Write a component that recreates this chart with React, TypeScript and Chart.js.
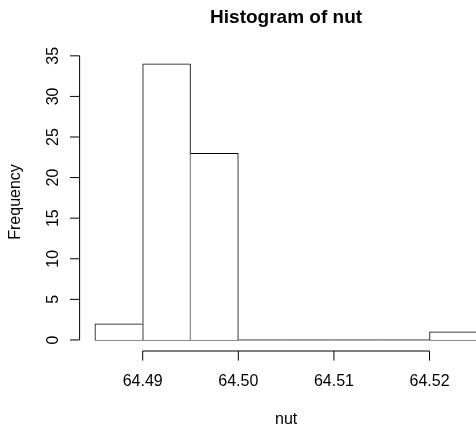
import React, { useEffect, useRef } from "react";
import { Chart, registerables } from "chart.js";

Chart.register(...registerables);

// Histogram data (bin edges and counts)
const binEdges = [64.485, 64.49, 64.495, 64.5, 64.505, 64.51, 64.515, 64.52, 64.525];
const counts = [2, 34, 23, 0, 0, 0, 0, 1];

// Axis ticks
const yTicks = [0, 5, 10, 15, 20, 25, 30, 35];
const yTickLabels = ["0", "5", "10", "15", "20", "25", "30", "35"];
const xTicks = [64.49, 64.5, 64.51, 64.52];
const xTickLabels = ["64.49", "64.50", "64.51", "64.52"];

const titleText = "Histogram of nut";
const xLabel = "nut";
const yLabel = "Frequency";

// Axis ranges (R-style 4% extension)
const xMin = 64.4834;
const xMax = 64.52486;
const yMin = -1.36;
const yMax = 35.36;

const FONT = '"Liberation Sans", Arial, Helvetica, sans-serif';

export default function App() {
  const ref = useRef<HTMLCanvasElement | null>(null);

  useEffect(() => {
    const canvas = ref.current;
    if (!canvas) return;

    const barData = counts.map((c, i) => ({ x: (binEdges[i] + binEdges[i + 1]) / 2, y: c }));
    const baseline = [
      { x: binEdges[0], y: 0 },
      { x: binEdges[binEdges.length - 1], y: 0 },
    ];

    const rAxes = {
      id: "rAxes",
      afterDraw(chart: any) {
        const ctx = chart.ctx as CanvasRenderingContext2D;
        const xs = chart.scales.x;
        const ys = chart.scales.y;
        const area = chart.chartArea;
        ctx.save();
        ctx.strokeStyle = "#000";
        ctx.fillStyle = "#000";
        ctx.lineWidth = 1;

        // Y axis
        const yAxisX = area.left;
        ctx.beginPath();
        ctx.moveTo(yAxisX, ys.getPixelForValue(yTicks[0]));
        ctx.lineTo(yAxisX, ys.getPixelForValue(yTicks[yTicks.length - 1]));
        yTicks.forEach((t) => {
          const py = ys.getPixelForValue(t);
          ctx.moveTo(yAxisX, py);
          ctx.lineTo(yAxisX - 9.6, py);
        });
        ctx.stroke();

        ctx.font = `16px ${FONT}`;
        ctx.textAlign = "center";
        ctx.textBaseline = "alphabetic";
        yTicks.forEach((t, i) => {
          const py = ys.getPixelForValue(t);
          ctx.save();
          ctx.translate(yAxisX - 22, py);
          ctx.rotate(-Math.PI / 2);
          ctx.fillText(yTickLabels[i], 0, 0);
          ctx.restore();
        });

        // X axis
        const xAxisY = area.bottom;
        ctx.beginPath();
        ctx.moveTo(xs.getPixelForValue(xTicks[0]), xAxisY);
        ctx.lineTo(xs.getPixelForValue(xTicks[xTicks.length - 1]), xAxisY);
        xTicks.forEach((t) => {
          const px = xs.getPixelForValue(t);
          ctx.moveTo(px, xAxisY);
          ctx.lineTo(px, xAxisY + 9.6);
        });
        ctx.stroke();

        xTicks.forEach((t, i) => {
          const px = xs.getPixelForValue(t);
          ctx.fillText(xTickLabels[i], px, xAxisY + 35);
        });

        // Labels and title
        const cx = xs.getPixelForValue((xMin + 64.5266) / 2);
        const cy = ys.getPixelForValue((yMin + yMax) / 2);
        ctx.fillText(xLabel, cx, 424);

        ctx.save();
        ctx.translate(19.5, cy);
        ctx.rotate(-Math.PI / 2);
        ctx.fillText(yLabel, 0, 0);
        ctx.restore();

        ctx.font = `bold 19px ${FONT}`;
        ctx.fillText(titleText, cx, 22.7);
        ctx.restore();
      },
    };

    const chart = new Chart(canvas, {
      type: "bar",
      data: {
        datasets: [
          {
            type: "bar",
            data: barData as any,
            backgroundColor: "#ffffff",
            borderColor: "#000000",
            borderSkipped: false,
            barPercentage: 1,
            categoryPercentage: 1,
            borderWidth: (c: any) => {
              const i = c.dataIndex;
              const v = counts[i] ?? 0;
              if (!v) return 0;
              const prev = i > 0 ? counts[i - 1] : 0;
              const next = i < counts.length - 1 ? counts[i + 1] : 0;
              return {
                top: 1,
                bottom: 0,
                left: v >= prev ? 1 : 0,
                right: v > next ? 1 : 0,
              };
            },
          } as any,
          {
            type: "line",
            data: baseline as any,
            borderColor: "#000000",
            borderWidth: 1,
            pointRadius: 0,
            fill: false,
          } as any,
        ],
      },
      options: {
        animation: false,
        responsive: false,
        devicePixelRatio: 1,
        layout: { padding: { left: 79.6, top: 52.9, right: 0, bottom: 74 } },
        scales: {
          x: {
            type: "linear",
            min: xMin,
            max: xMax,
            offset: false,
            display: false,
            ticks: { stepSize: 0.01, includeBounds: false },
          },
          y: {
            type: "linear",
            min: yMin,
            max: yMax,
            display: false,
          },
        },
        plugins: {
          legend: { display: false },
          tooltip: { enabled: false },
          title: { display: false },
        },
      },
      plugins: [rAxes],
    });

    return () => chart.destroy();
  }, []);

  return (
    <div style={{ position: "fixed", left: 0, top: 0, width: 476, height: 425, background: "#fff" }}>
      <canvas ref={ref} width={476} height={425} style={{ width: 476, height: 425, display: "block" }} />
    </div>
  );
}
